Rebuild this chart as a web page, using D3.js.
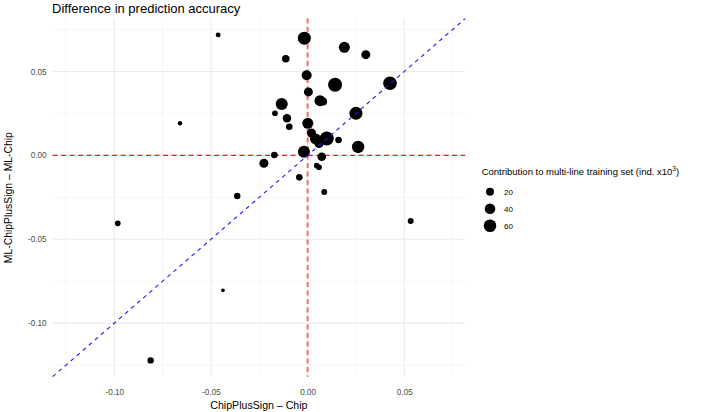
<!DOCTYPE html>
<html>
<head>
<meta charset="utf-8">
<script src="https://cdn.jsdelivr.net/npm/d3@7"></script>
<style>
  html, body { margin: 0; padding: 0; background: #ffffff; }
  svg { display: block; font-family: "Liberation Sans", Arial, Helvetica, sans-serif; }
</style>
</head>
<body>
<svg id="chart" width="708" height="412"></svg>
<script>
// ---- data ----
const chipDiff = [-0.0463, -0.0017, 0.0190, 0.0301, -0.0113, -0.0005, 0.0142, 0.0426, 0.0004, 0.0064,
  0.0080, -0.0134, -0.0169, 0.0250, -0.0107, -0.0095, 0.0001, 0.0020, 0.0041, 0.0059,
  0.0099, 0.0160, 0.0261, -0.0019, -0.0172, 0.0073, -0.0226, 0.0047, 0.0059, -0.0043,
  0.0086, 0.0533, -0.0364, -0.0660, -0.0438, -0.0812, -0.0982];
const mlDiff = [0.0718, 0.0698, 0.0644, 0.0600, 0.0576, 0.0477, 0.0421, 0.0430, 0.0378, 0.0326,
  0.0321, 0.0306, 0.0251, 0.0251, 0.0221, 0.0171, 0.0191, 0.0133, 0.0098, 0.0071,
  0.0100, 0.0092, 0.0050, 0.0022, 0.0002, -0.0008, -0.0047, -0.0061, -0.0071, -0.0131,
  -0.0218, -0.0391, -0.0242, 0.0191, -0.0804, -0.1222, -0.0405];
const contribution = [5, 65, 44, 27, 17, 35, 77, 72, 27, 44,
  20, 54, 8, 65, 23, 12, 44, 27, 44, 27,
  77, 12, 58, 54, 12, 24, 27, 8, 8, 12,
  9, 9, 11, 4, 2, 11, 8];
const xTicks = [-0.10, -0.05, 0.00, 0.05];
const yTicks = [-0.10, -0.05, 0.00, 0.05];
const xMinor = [-0.125, -0.075, -0.025, 0.025, 0.075];
const yMinor = [-0.125, -0.075, -0.025, 0.025, 0.075];
const legendValues = [20, 40, 60];

const titleText = "Difference in prediction accuracy";
const xTitle = "ChipPlusSign \u2013 Chip";
const yTitle = "ML-ChipPlusSign \u2013 ML-Chip";

// ---- layout ----
const svg = d3.select("#chart");
const panel = { left: 52.6, right: 465.2, top: 18.6, bottom: 376.7 };

const points = chipDiff.map((x, i) => ({ x, y: mlDiff[i], s: contribution[i] }));

// shared limits for both axes (expanded 5%)
const allVals = chipDiff.concat(mlDiff);
const [lo, hi] = d3.extent(allVals);
const pad = (hi - lo) * 0.05;
const dom = [lo - pad, hi + pad];

const x = d3.scaleLinear().domain(dom).range([panel.left, panel.right]);
const y = d3.scaleLinear().domain(dom).range([panel.bottom, panel.top]);
const r = d3.scaleSqrt().domain([20, 60]).range([4, 6.3]);

const fmt = d3.format(".2f");
const minus = s => s.replace("\u2212", "-");

// grid
const g = svg.append("g");
g.selectAll(".xminor").data(xMinor).join("line")
  .attr("x1", d => x(d)).attr("x2", d => x(d))
  .attr("y1", panel.top).attr("y2", panel.bottom)
  .attr("stroke", "#f0f0f0").attr("stroke-width", 0.6);
g.selectAll(".yminor").data(yMinor).join("line")
  .attr("y1", d => y(d)).attr("y2", d => y(d))
  .attr("x1", panel.left).attr("x2", panel.right)
  .attr("stroke", "#f0f0f0").attr("stroke-width", 0.6);
g.selectAll(".xmajor").data(xTicks).join("line")
  .attr("x1", d => x(d)).attr("x2", d => x(d))
  .attr("y1", panel.top).attr("y2", panel.bottom)
  .attr("stroke", "#ebebeb").attr("stroke-width", 1.1);
g.selectAll(".ymajor").data(yTicks).join("line")
  .attr("y1", d => y(d)).attr("y2", d => y(d))
  .attr("x1", panel.left).attr("x2", panel.right)
  .attr("stroke", "#ebebeb").attr("stroke-width", 1.1);

// axes (tick labels only, theme_minimal style)
const xAxis = d3.axisBottom(x).tickValues(xTicks).tickFormat(d => minus(fmt(d))).tickSize(0).tickPadding(0);
const yAxis = d3.axisLeft(y).tickValues(yTicks).tickFormat(d => minus(fmt(d))).tickSize(0).tickPadding(0);
const gx = svg.append("g").attr("transform", `translate(0,${panel.bottom + 12})`).call(xAxis);
const gy = svg.append("g").attr("transform", `translate(${panel.left - 6},0)`).call(yAxis);
[gx, gy].forEach(a => {
  a.select(".domain").remove();
  a.selectAll("text").attr("fill", "#4d4d4d").style("font-size", "8.2px")
    .style("font-family", '"Liberation Sans", Arial, Helvetica, sans-serif');
});

// reference lines
svg.append("line")
  .attr("x1", panel.left).attr("x2", panel.right)
  .attr("y1", y(0)).attr("y2", y(0))
  .attr("stroke", "#e2211c").attr("stroke-width", 1.1).attr("stroke-dasharray", "5,3.5");
svg.append("line")
  .attr("x1", x(0)).attr("x2", x(0))
  .attr("y1", panel.top).attr("y2", panel.bottom)
  .attr("stroke", "#f07070").attr("stroke-width", 2).attr("stroke-dasharray", "5,3.5");

// points
svg.append("g").selectAll("circle").data(points).join("circle")
  .attr("cx", d => x(d.x)).attr("cy", d => y(d.y)).attr("r", d => r(d.s))
  .attr("fill", "#000000");

// identity line
svg.append("line")
  .attr("x1", x(dom[0])).attr("y1", y(dom[0]))
  .attr("x2", x(dom[1])).attr("y2", y(dom[1]))
  .attr("stroke", "#1a1aff").attr("stroke-width", 1.1).attr("stroke-dasharray", "4,4");

// title
svg.append("text").attr("x", 52).attr("y", 12.5)
  .style("font-size", "13px").attr("fill", "#000").text(titleText);

// axis titles
svg.append("text").attr("x", (panel.left + panel.right) / 2).attr("y", 408.5)
  .attr("text-anchor", "middle").style("font-size", "10.6px").attr("fill", "#000").text(xTitle);
svg.append("text")
  .attr("transform", `translate(11.8,${(panel.top + panel.bottom) / 2}) rotate(-90)`)
  .attr("text-anchor", "middle").style("font-size", "10.4px").attr("fill", "#000").text(yTitle);

// legend
const lg = svg.append("g");
const lt = lg.append("text").attr("x", 481.7).attr("y", 174.5)
  .style("font-size", "9.5px").attr("fill", "#000");
lt.append("tspan").text("Contribution to multi-line training set (ind. x10");
lt.append("tspan").attr("dy", -3.5).style("font-size", "6.5px").text("3");
lt.append("tspan").attr("dy", 3.5).text(")");
const keyY = [191.7, 208.7, 225.7];
lg.selectAll("circle").data(legendValues).join("circle")
  .attr("cx", 490).attr("cy", (d, i) => keyY[i]).attr("r", d => r(d)).attr("fill", "#000");
lg.selectAll(".lab").data(legendValues).join("text")
  .attr("x", 504).attr("y", (d, i) => keyY[i]).attr("dy", "0.35em")
  .style("font-size", "8px").attr("fill", "#000").text(d => d);
</script>
</body>
</html>
